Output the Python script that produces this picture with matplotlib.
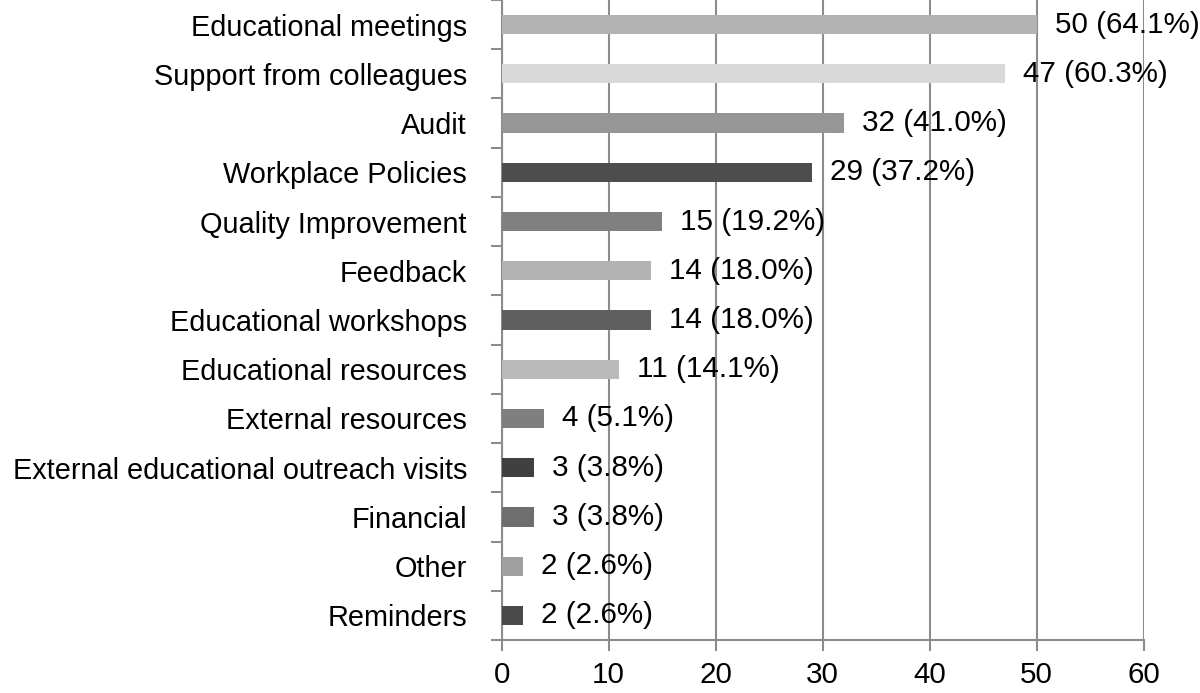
import numpy as np
import matplotlib.pyplot as plt

plt.rcParams['font.family'] = ['Liberation Sans', 'DejaVu Sans']

# data, top to bottom as in the chart
categories = ['Educational meetings', 'Support from colleagues', 'Audit',
              'Workplace Policies', 'Quality Improvement', 'Feedback',
              'Educational workshops', 'Educational resources',
              'External resources', 'External educational outreach visits',
              'Financial', 'Other', 'Reminders']
counts = [50, 47, 32, 29, 15, 14, 14, 11, 4, 3, 3, 2, 2]
percents = [64.1, 60.3, 41.0, 37.2, 19.2, 18.0, 18.0, 14.1, 5.1, 3.8, 3.8, 2.6, 2.6]
bar_colors = ['#b3b3b3', '#d9d9d9', '#969696', '#4d4d4d', '#808080', '#b3b3b3',
              '#5f5f5f', '#bababa', '#7f7f7f', '#404040', '#6e6e6e', '#a0a0a0',
              '#4a4a4a']

fig = plt.figure(figsize=(12, 6.93), dpi=100)
ax = fig.add_axes([0.418, 0.0765, 0.535, 0.9235])

grid_c = '#8c8c8c'
fs = 21.3
y = np.arange(len(categories))
ax.barh(y, counts, height=0.39, color=bar_colors, zorder=3)

for yi, c, p in zip(y, counts, percents):
    ax.annotate(f'{c} ({p:.1f}%)', (c, yi), xytext=(13, 0),
                textcoords='offset points', va='center', ha='left',
                fontsize=fs, color='black', zorder=4)

ax.set_xlim(0, 60)
ax.set_ylim(len(categories) - 0.5, -0.5)
ax.set_xticks(np.arange(0, 61, 10))
ax.set_yticks(y)
ax.set_yticklabels(categories)
ax.set_yticks(np.arange(-0.5, len(categories), 1), minor=True)

ax.xaxis.grid(True, color=grid_c, linewidth=1.5, zorder=0)
for s in ['top', 'right']:
    ax.spines[s].set_visible(False)
for s in ['left', 'bottom']:
    ax.spines[s].set_color(grid_c)
    ax.spines[s].set_linewidth(1.5)

ax.tick_params(axis='y', which='major', length=0, pad=25, labelsize=20.8)
ax.tick_params(axis='y', which='minor', length=8, width=1.5, color=grid_c)
ax.tick_params(axis='x', length=8, width=1.5, color=grid_c, labelsize=fs, pad=7)

fig.savefig('out.png', dpi=100)
